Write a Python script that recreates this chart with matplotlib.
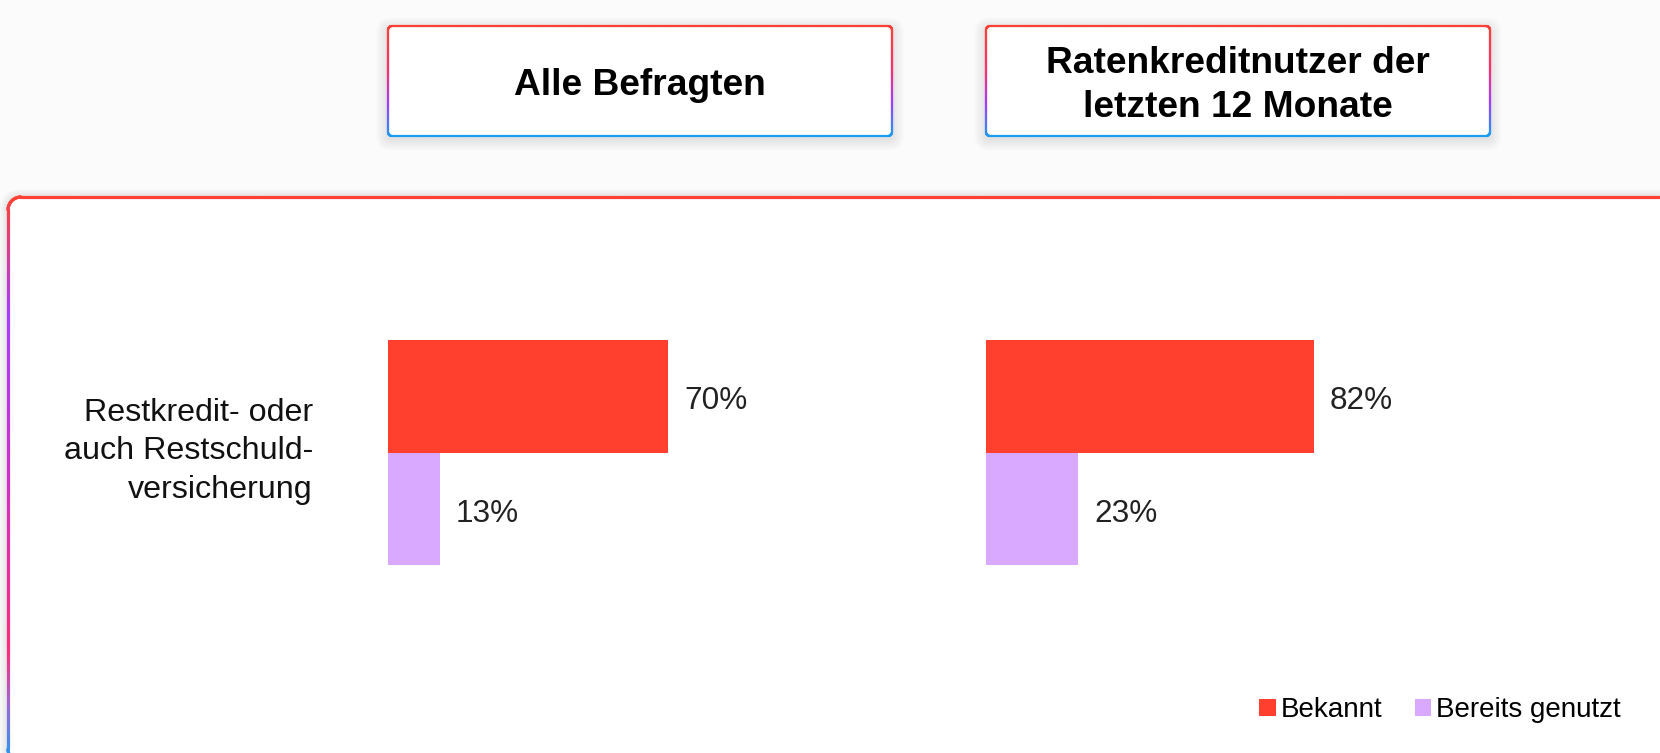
import matplotlib
matplotlib.use('Agg')
import matplotlib.pyplot as plt
import numpy as np
from matplotlib.patches import FancyBboxPatch, Patch
from matplotlib.collections import LineCollection
from matplotlib.colors import LinearSegmentedColormap

plt.rcParams['font.family'] = ['Liberation Sans', 'DejaVu Sans']

# ---------------- data ----------------
category = "Restkredit- oder\nauch Restschuld-\nversicherung"
panel_titles = ["Alle Befragten", "Ratenkreditnutzer der\nletzten 12 Monate"]
series_names = ["Bekannt", "Bereits genutzt"]
bekannt = [70, 82]
genutzt = [13, 23]
series_colors = ['#ff402e', '#d9a8ff']

# ---------------- figure ----------------
W, H, DPI = 1660, 753, 100
fig = plt.figure(figsize=(W / DPI, H / DPI), dpi=DPI, facecolor='#fbfbfb')
bg = fig.add_axes([0, 0, 1, 1])
bg.set_xlim(0, W)
bg.set_ylim(H, 0)
bg.axis('off')


def px_axes(x0, y0, x1, y1):
    return fig.add_axes([x0 / W, 1 - y1 / H, (x1 - x0) / W, (y1 - y0) / H])


def rr_points(x0, y0, x1, y1, r, n=200):
    def arc(cx, cy, a0, a1):
        t = np.linspace(a0, a1, 24)
        return np.c_[cx + r * np.cos(t), cy + r * np.sin(t)]

    def line(p, q):
        t = np.linspace(0, 1, n)[:, None]
        p, q = np.array(p, float), np.array(q, float)
        return p + (q - p) * t

    segs = [
        line((x0 + r, y0), (x1 - r, y0)),
        arc(x1 - r, y0 + r, -np.pi / 2, 0),
        line((x1, y0 + r), (x1, y1 - r)),
        arc(x1 - r, y1 - r, 0, np.pi / 2),
        line((x1 - r, y1), (x0 + r, y1)),
        arc(x0 + r, y1 - r, np.pi / 2, np.pi),
        line((x0, y1 - r), (x0, y0 + r)),
        arc(x0 + r, y0 + r, np.pi, 1.5 * np.pi),
    ]
    return np.concatenate(segs)


def grad_box(x0, y0, x1, y1, r, cmap, lw, shadow=10, salpha=0.006, dy=3):
    for k in range(shadow, 0, -1):
        sh = FancyBboxPatch((x0 - k, y0 - k + dy), (x1 - x0) + 2 * k, (y1 - y0) + 2 * k,
                            boxstyle=f"round,pad=0,rounding_size={r + k}",
                            fc=(0, 0, 0, salpha), ec='none', zorder=1)
        bg.add_patch(sh)
    box = FancyBboxPatch((x0, y0), x1 - x0, y1 - y0,
                         boxstyle=f"round,pad=0,rounding_size={r}",
                         fc='white', ec='none', zorder=2)
    bg.add_patch(box)
    pts = rr_points(x0, y0, x1, y1, r)
    segs = np.stack([pts[:-1], pts[1:]], axis=1)
    ym = segs[:, :, 1].mean(axis=1)
    c = cmap(np.clip((ym - y0) / (y1 - y0), 0, 1))
    lc = LineCollection(segs, colors=c, linewidths=lw, capstyle='round',
                        joinstyle='round', zorder=3)
    bg.add_collection(lc)


hdr_cmap = LinearSegmentedColormap.from_list(
    'hdr', [(0, '#ff4136'), (0.4, '#ff2f6e'), (0.7, '#a13dff'), (1.0, '#1e9cf0')])
main_cmap = LinearSegmentedColormap.from_list(
    'main', [(0, '#ff4136'), (0.2, '#a83dff'), (0.5, '#d22fc8'), (0.8, '#ff2d7a'),
             (0.9, '#9a6ad8'), (1.0, '#1e9cf0')])

# main panel
grad_box(8, 197, 1700, 762, 13, main_cmap, 2.3, shadow=8, salpha=0.01, dy=0)

# header boxes
hdr_boxes = [(388, 26, 892, 136), (986, 26, 1490, 136)]
for (x0, y0, x1, y1), title in zip(hdr_boxes, panel_titles):
    grad_box(x0, y0, x1, y1, 4, hdr_cmap, 1.6, shadow=12, salpha=0.006)
    bg.text((x0 + x1) / 2, (y0 + y1) / 2 + 4.5, title, ha='center', va='center',
            fontsize=26.7, fontweight='bold', color='black', linespacing=1.36, zorder=5)

# ---------------- bars ----------------
bar_axes = [px_axes(388, 340, 892, 565), px_axes(986, 340, 1490, 565)]
for i, ax in enumerate(bar_axes):
    ax.set_facecolor('none')
    vals = [bekannt[i], genutzt[i]]
    ax.barh([0, 1], vals, height=1.0, color=series_colors)
    for y, v in enumerate(vals):
        ax.annotate(f"{v}%", xy=(v, y), xytext=(11.5, -3.6), textcoords='offset points',
                    ha='left', va='center', fontsize=22.7, color='#222222')
    ax.set_xlim(0, 126)
    ax.set_ylim(1.5, -0.5)
    for s in ax.spines.values():
        s.set_visible(False)
    ax.set_xticks([])
    if i == 0:
        ax.set_yticks([0.42])
        ax.set_yticklabels([category], fontsize=23.2, color='#111111', linespacing=1.39)
        ax.tick_params(axis='y', length=0, pad=54)
    else:
        ax.set_yticks([])

# ---------------- legend ----------------
handles = [Patch(facecolor=c, edgecolor='none') for c in series_colors]
fig.legend(handles, series_names, loc='center right',
           bbox_to_anchor=(1621 / W, 1 - 710 / H), ncol=2, frameon=False,
           fontsize=20.0, handlelength=0.58, handleheight=0.58, handletextpad=0.2,
           columnspacing=1.15, borderpad=0, borderaxespad=0)

fig.savefig('out.png', dpi=DPI, facecolor=fig.get_facecolor())
